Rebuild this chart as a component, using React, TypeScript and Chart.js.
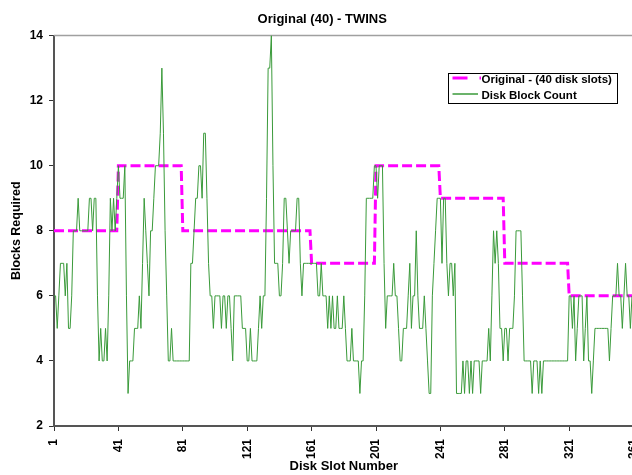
import React, { useEffect, useRef } from "react";
import { Chart, registerables } from "chart.js";

Chart.register(...registerables);

const chartTitle = "Original (40) - TWINS";
const xAxisTitle = "Disk Slot Number";
const yAxisTitle = "Blocks Required";
const originalLabel = "Original - (40 disk slots)";
const countLabel = "Disk Block Count";

const xTickValues = [1, 41, 81, 121, 161, 201, 241, 281, 321, 361];
const yTickMin = 2;
const yTickMax = 14;
const yTickStep = 2;

// Original allocation (40-slot blocks): step line corner points
const originalX = [1, 40, 41, 80, 81, 160, 161, 200, 201, 240, 241, 280, 281, 320, 321, 361];
const originalY = [8, 8, 10, 10, 8, 8, 7, 7, 10, 10, 9, 9, 7, 7, 6, 6];

// Disk block count per slot, starting at slot 1
const firstSlot = 1;
const countValues = [
  6, 6, 5, 6, 7, 7, 7, 6, 7, 5,
  5, 6, 8, 8, 8, 9, 8, 8, 8, 8,
  8, 8, 9, 9, 8, 9, 9, 6, 4, 5,
  4, 4, 5, 4, 6, 9, 8, 9, 8, 9,
  10, 9, 9, 9, 10, 6, 3, 4, 4, 4,
  5, 5, 5, 6, 5, 7, 9, 8, 7, 6,
  8, 8, 9, 10, 10, 10, 11, 13, 11, 8,
  6, 4, 4, 5, 4, 4, 4, 4, 4, 4,
  4, 4, 4, 4, 4, 7, 7, 8, 9, 9,
  10, 10, 9, 11, 11, 9, 7, 6, 6, 5,
  6, 6, 6, 6, 5, 6, 6, 5, 6, 6,
  5, 4, 6, 6, 6, 6, 6, 5, 5, 5,
  4, 4, 5, 4, 4, 4, 4, 5, 6, 5,
  6, 6, 9, 13, 13, 14, 10, 7, 7, 7,
  6, 6, 7, 9, 9, 8, 7, 8, 8, 8,
  8, 9, 9, 7, 6, 7, 7, 7, 7, 7,
  7, 7, 7, 7, 6, 6, 7, 6, 6, 6,
  5, 6, 5, 6, 5, 5, 6, 5, 5, 5,
  6, 5, 4, 4, 4, 5, 4, 4, 4, 4,
  3, 4, 4, 6, 9, 9, 9, 9, 9, 10,
  10, 9, 10, 10, 10, 7, 5, 6, 6, 6,
  6, 7, 6, 6, 5, 4, 4, 5, 5, 5,
  6, 7, 5, 6, 6, 8, 6, 5, 5, 5,
  6, 5, 4, 3, 3, 6, 7, 8, 9, 9,
  9, 7, 9, 9, 7, 6, 7, 7, 6, 7,
  3, 3, 3, 3, 4, 3, 4, 4, 3, 4,
  3, 4, 4, 4, 4, 3, 4, 4, 4, 4,
  5, 4, 6, 8, 7, 8, 7, 5, 5, 4,
  5, 5, 4, 5, 5, 5, 6, 8, 8, 8,
  8, 6, 4, 4, 4, 4, 4, 3, 4, 4,
  4, 3, 4, 3, 4, 4, 4, 4, 4, 4,
  4, 4, 4, 4, 4, 4, 4, 4, 4, 4,
  6, 6, 5, 6, 4, 5, 6, 6, 6, 4,
  5, 6, 4, 4, 3, 4, 5, 5, 5, 5,
  5, 5, 5, 5, 5, 4, 5, 6, 6, 6,
  7, 6, 6, 5, 6, 7, 6, 6, 5, 6, 6,
];

const FONT = "Arial, 'Liberation Sans', sans-serif";
const MAGENTA = "#ff00ff";
const GREEN = "#3a9a3a";

const framePlugin = {
  id: "frameAndLegend",
  beforeDatasetsDraw(chart: any) {
    const { ctx, chartArea } = chart;
    ctx.save();
    ctx.strokeStyle = "#a0a0a0";
    ctx.lineWidth = 1.5;
    ctx.beginPath();
    ctx.moveTo(chartArea.left, chartArea.top);
    ctx.lineTo(chartArea.right + 20, chartArea.top);
    ctx.stroke();
    ctx.restore();
  },
  afterDraw(chart: any) {
    const { ctx, chartArea } = chart;
    const bx = Math.round(chartArea.right - 186);
    const by = Math.round(chartArea.top + 37);
    const bw = 169;
    const bh = 30;
    ctx.save();
    ctx.fillStyle = "#ffffff";
    ctx.fillRect(bx, by, bw, bh);
    ctx.strokeStyle = "#000000";
    ctx.lineWidth = 1;
    ctx.strokeRect(bx + 0.5, by + 0.5, bw, bh);

    ctx.strokeStyle = MAGENTA;
    ctx.lineWidth = 3;
    ctx.setLineDash([15, 12]);
    ctx.beginPath();
    ctx.moveTo(bx + 4.5, by + 5);
    ctx.lineTo(bx + 33, by + 5);
    ctx.stroke();

    ctx.setLineDash([]);
    ctx.strokeStyle = GREEN;
    ctx.lineWidth = 1.5;
    ctx.beginPath();
    ctx.moveTo(bx + 4.5, by + 21);
    ctx.lineTo(bx + 30, by + 21);
    ctx.stroke();

    ctx.fillStyle = "#000";
    ctx.font = `bold 11.5px ${FONT}`;
    ctx.textBaseline = "middle";
    ctx.textAlign = "left";
    ctx.fillText(originalLabel, bx + 33.5, by + 6.5);
    ctx.fillText(countLabel, bx + 33.5, by + 22.5);
    ctx.restore();
  },
};

export default function App() {
  const ref = useRef<HTMLCanvasElement>(null);
  useEffect(() => {
    const canvas = ref.current;
    if (!canvas) return;
    const chart = new Chart(canvas, {
      type: "line",
      data: {
        datasets: [
          {
            label: originalLabel,
            data: originalX.map((x, i) => ({ x, y: originalY[i] })),
            borderColor: MAGENTA,
            borderWidth: 3,
            borderDash: [10, 4],
            pointRadius: 0,
            fill: false,
            tension: 0,
            order: 1,
          },
          {
            label: countLabel,
            data: countValues.map((y, i) => ({ x: firstSlot + i, y })),
            borderColor: GREEN,
            borderWidth: 1,
            pointRadius: 0,
            fill: false,
            tension: 0,
            order: 0,
          },
        ],
      },
      options: {
        responsive: false,
        animation: false,
        devicePixelRatio: 1,
        layout: { padding: { left: 5.5, right: 17, top: 0, bottom: 1 } },
        plugins: {
          legend: { display: false },
          tooltip: { enabled: false },
          title: {
            display: true,
            text: chartTitle,
            color: "#000",
            font: { family: FONT, size: 13, weight: "bold" },
            padding: { top: 12, bottom: 8 },
          },
        },
        scales: {
          x: {
            type: "linear",
            min: xTickValues[0],
            max: xTickValues[xTickValues.length - 1],
            afterBuildTicks: (scale: any) => {
              scale.ticks = xTickValues.map((v) => ({ value: v }));
            },
            afterFit: (scale: any) => {
              scale.height = 48;
            },
            ticks: {
              autoSkip: false,
              maxRotation: 90,
              minRotation: 90,
              padding: 8,
              color: "#000",
              font: { family: FONT, size: 12, weight: "bold" },
              callback: (v: any) => String(v),
            },
            grid: { drawOnChartArea: false, drawTicks: true, tickLength: 5, color: "#333" },
            border: { display: true, color: "#555", width: 2 },
            title: {
              display: true,
              text: xAxisTitle,
              color: "#000",
              font: { family: FONT, size: 13, weight: "bold" },
              padding: { top: 1, bottom: 0 },
            },
          },
          y: {
            type: "linear",
            min: yTickMin,
            max: yTickMax,
            afterFit: (scale: any) => {
              scale.width = 48.5;
            },
            ticks: {
              stepSize: yTickStep,
              padding: 6,
              color: "#000",
              font: { family: FONT, size: 12, weight: "bold" },
            },
            grid: { drawOnChartArea: false, drawTicks: true, tickLength: 5, color: "#333" },
            border: { display: true, color: "#555", width: 2 },
            title: {
              display: true,
              text: yAxisTitle,
              color: "#000",
              font: { family: FONT, size: 12.5, weight: "bold" },
              padding: { top: 4, bottom: 4 },
            },
          },
        },
      },
      plugins: [framePlugin],
    });
    return () => chart.destroy();
  }, []);

  return (
    <div style={{ position: "absolute", left: 0, top: 0, width: 632, height: 475, overflow: "hidden", background: "#fff" }}>
      <canvas ref={ref} width={656} height={475} style={{ display: "block" }} />
    </div>
  );
}
